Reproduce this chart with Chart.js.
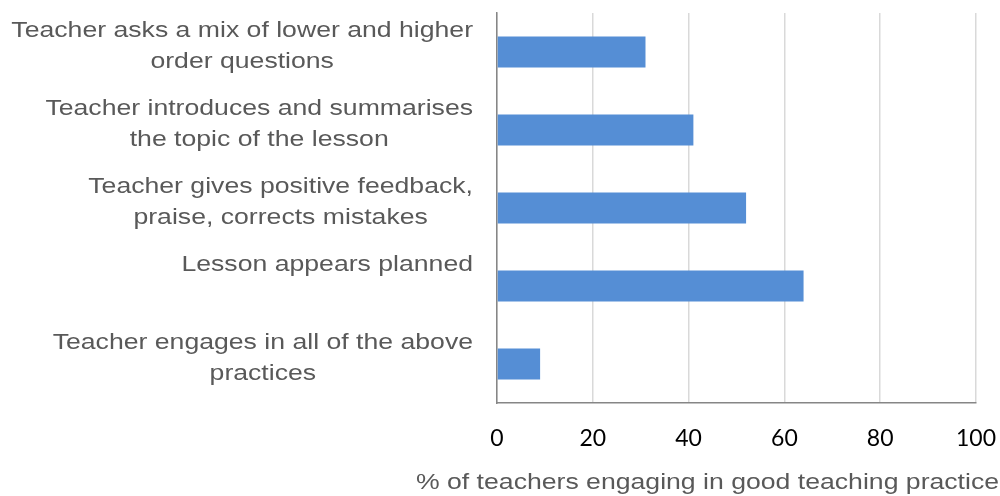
<!DOCTYPE html>
<html>
<head>
<meta charset="utf-8">
<script src="https://cdn.jsdelivr.net/npm/chart.js@4.4.0/dist/chart.umd.min.js"></script>
<style>
  html, body { margin: 0; padding: 0; background: #fff; }
  #wrap { width: 1000px; height: 496px; }
</style>
</head>
<body>
<div id="wrap"><canvas id="myChart"></canvas></div>
<script>
const practices = [
  ['Teacher asks a mix of lower and higher', 'order questions'],
  ['Teacher introduces and summarises', 'the topic of the lesson'],
  ['Teacher gives positive feedback,', 'praise, corrects mistakes'],
  ['Lesson appears planned'],
  ['Teacher engages in all of the above', 'practices']
];
const percentTeachers = [31, 41, 52, 64, 9];
const xTicks = [0, 20, 40, 60, 80, 100];
const xTitle = '% of teachers engaging in good teaching practice';

// the original text is a bit wider than Arial, so stretch it sideways
const stretch = 1.21;
const labelFont = '22px "Liberation Sans", Arial, sans-serif';

// category labels: lines centred on each other, block right-aligned to the axis
const categoryLabels = {
  id: 'categoryLabels',
  afterDraw(chart) {
    const ctx = chart.ctx;
    const ys = chart.scales.y;
    const right = ys.right - 24;
    ctx.save();
    ctx.font = labelFont;
    ctx.fillStyle = '#595959';
    ctx.textAlign = 'center';
    ctx.textBaseline = 'alphabetic';
    ctx.scale(stretch, 1);
    chart.data.labels.forEach((lines, i) => {
      const tick = ys.getPixelForTick(i);
      const widest = Math.max(...lines.map(l => ctx.measureText(l).width)) * stretch;
      const cx = right - widest / 2;
      lines.forEach((line, j) => {
        ctx.fillText(line, cx / stretch, tick - 15 + j * 31);
      });
    });
    ctx.restore();
  }
};

// x axis title sits a bit left of the plot centre, like the original
const axisTitle = {
  id: 'axisTitle',
  afterDraw(chart) {
    const ctx = chart.ctx;
    const xs = chart.scales.x;
    ctx.save();
    ctx.font = labelFont;
    ctx.fillStyle = '#595959';
    ctx.textAlign = 'center';
    ctx.textBaseline = 'middle';
    ctx.scale(stretch, 1);
    ctx.fillText(xTitle, ((xs.left + xs.right) / 2 - 29) / stretch, 483);
    ctx.restore();
  }
};

const chartContext = document.getElementById('myChart').getContext('2d');
const myChart = new Chart(chartContext, {
  type: 'bar',
  data: {
    labels: practices,
    datasets: [{
      data: percentTeachers,
      backgroundColor: '#558ed5',
      borderWidth: 0,
      barPercentage: 0.4,
      categoryPercentage: 1
    }]
  },
  options: {
    indexAxis: 'y',
    responsive: true,
    maintainAspectRatio: false,
    animation: false,
    layout: { padding: { top: 13, right: 24, left: 0, bottom: 0 } },
    plugins: {
      legend: { display: false },
      tooltip: { enabled: false }
    },
    scales: {
      x: {
        min: 0,
        max: 100,
        afterBuildTicks(scale) {
          scale.ticks = xTicks.map(v => ({ value: v }));
        },
        afterFit(scale) {
          scale.height = 93;
          scale.paddingLeft = 0;
          scale.paddingRight = 0;
        },
        grid: { color: '#d9d9d9', lineWidth: 1.5, drawTicks: false },
        border: { color: '#868686', width: 1.5 },
        ticks: {
          padding: 22,
          color: '#000',
          font: { family: 'Lato, "Open Sans", sans-serif', size: 23 }
        }
      },
      y: {
        afterFit(scale) { scale.width = 497; },
        grid: { display: false, drawTicks: false },
        border: { color: '#868686', width: 1.5 },
        ticks: { display: false }
      }
    }
  },
  plugins: [categoryLabels, axisTitle]
});
</script>
</body>
</html>
